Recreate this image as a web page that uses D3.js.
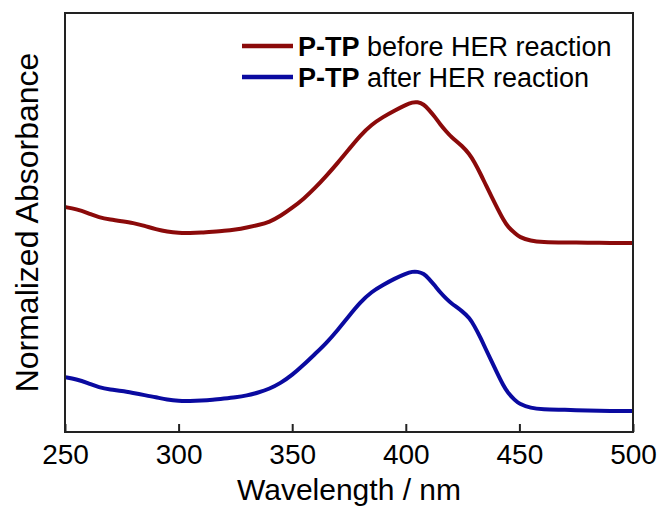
<!DOCTYPE html>
<html>
<head>
<meta charset="utf-8">
<script src="https://cdn.jsdelivr.net/npm/d3@7"></script>
<style>
  html, body { margin: 0; padding: 0; background: #fff; }
  text { font-family: Arial, "Liberation Sans", sans-serif; fill: #000; }
</style>
</head>
<body>
<svg id="chart" width="663" height="506"></svg>
<script>
const wavelengths = [250,255,260,265,270,275,280,285,290,295,300,305,310,315,320,325,330,335,340,345,350,355,360,365,370,375,380,385,390,395,400,403,405,408,410,413,415,418,420,425,428,430,433,435,440,443,445,448,450,455,460,470,480,490,500];
const beforeHER = [0.537,0.532,0.523,0.512,0.507,0.503,0.499,0.492,0.484,0.478,0.475,0.475,0.476,0.478,0.480,0.483,0.488,0.494,0.501,0.516,0.535,0.556,0.582,0.611,0.642,0.675,0.708,0.734,0.752,0.767,0.781,0.787,0.788,0.782,0.770,0.751,0.735,0.716,0.704,0.682,0.663,0.646,0.615,0.592,0.537,0.506,0.489,0.475,0.465,0.456,0.453,0.452,0.452,0.451,0.451];
const afterHER = [0.131,0.126,0.117,0.106,0.101,0.098,0.093,0.088,0.083,0.077,0.074,0.074,0.075,0.077,0.080,0.083,0.087,0.094,0.103,0.117,0.136,0.160,0.186,0.212,0.243,0.277,0.310,0.335,0.351,0.366,0.378,0.383,0.383,0.378,0.367,0.348,0.334,0.317,0.307,0.288,0.272,0.255,0.224,0.200,0.143,0.110,0.093,0.076,0.067,0.057,0.054,0.053,0.051,0.050,0.050];
const xTicks = [250,300,350,400,450,500];
const seriesNames = ["before HER reaction", "after HER reaction"];
const seriesColors = ["#8b0a0a", "#0a0aa0"];

const svg = d3.select("#chart");
const mLeft = 65, mRight = 633, mTop = 13, mBottom = 432;
const x = d3.scaleLinear().domain([250, 500]).range([mLeft, mRight]);
const y = d3.scaleLinear().domain([0, 1]).range([mBottom, mTop]);

const line = d3.line().x(d => x(d[0])).y(d => y(d[1])).curve(d3.curveBasis);
const series = [beforeHER, afterHER];
series.forEach((vals, i) => {
  svg.append("path")
    .datum(wavelengths.map((w, j) => [w, vals[j]]))
    .attr("fill", "none")
    .attr("stroke", seriesColors[i])
    .attr("stroke-width", 4)
    .attr("stroke-linejoin", "round")
    .attr("d", line);
});

// frame
svg.append("rect").attr("x", mLeft).attr("y", mTop).attr("width", mRight - mLeft).attr("height", mBottom - mTop)
  .attr("fill", "none").attr("stroke", "#222").attr("stroke-width", 2);

// x axis ticks (inward)
const xAxis = d3.axisBottom(x).tickValues(xTicks).tickSizeInner(-8).tickSizeOuter(0).tickPadding(12);
const gx = svg.append("g").attr("transform", `translate(0,${mBottom})`).call(xAxis);
gx.select(".domain").remove();
gx.selectAll(".tick line").attr("stroke", "#222").attr("stroke-width", 2);
gx.selectAll(".tick text").style("font-size", "28px").style("font-family", "Arial, 'Liberation Sans', sans-serif").attr("fill", "#000");

svg.append("text").attr("x", 349).attr("y", 500).attr("text-anchor", "middle")
  .style("font-size", "30px").text("Wavelength / nm");
svg.append("text").attr("transform", `translate(38,${(mTop + mBottom) / 2}) rotate(-90)`).attr("text-anchor", "middle")
  .style("font-size", "32px").text("Normalized Absorbance");

// legend
const legY = [46, 77];
seriesNames.forEach((name, i) => {
  svg.append("line").attr("x1", 242).attr("x2", 293).attr("y1", legY[i]).attr("y2", legY[i])
    .attr("stroke", seriesColors[i]).attr("stroke-width", 4.5);
  const t = svg.append("text").attr("x", 298).attr("y", legY[i]).attr("dy", "0.36em").style("font-size", "27px");
  t.append("tspan").style("font-weight", "bold").text("P-TP");
  t.append("tspan").text(" " + name);
});
</script>
</body>
</html>
